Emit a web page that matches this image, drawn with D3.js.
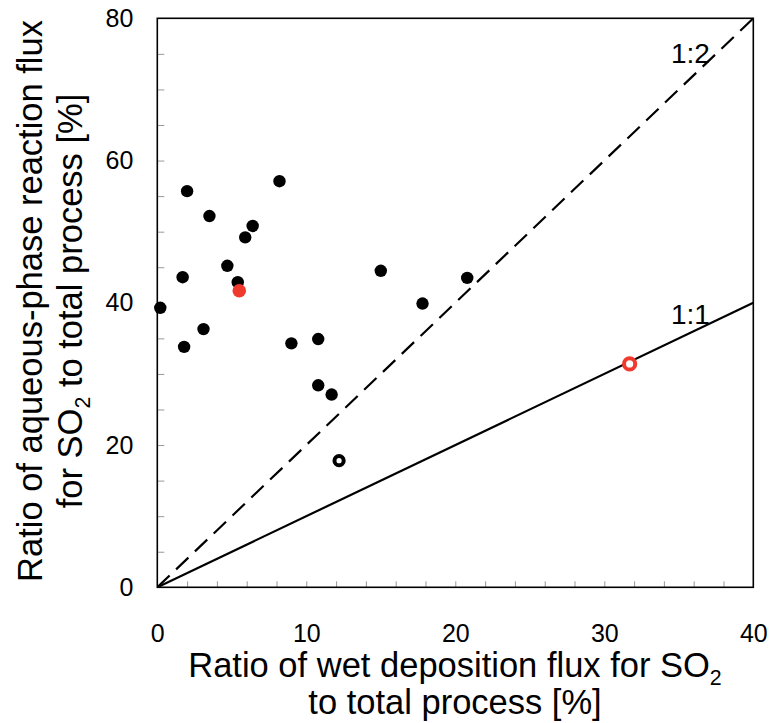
<!DOCTYPE html>
<html><head><meta charset="utf-8">
<script src="https://cdn.jsdelivr.net/npm/d3@7"></script>
<style>body{margin:0;background:#fff}svg{display:block}text{font-family:"Liberation Sans",Arial,sans-serif}</style>
</head><body>
<svg id="c" width="770" height="723"></svg>
<script>
// Filled black points: wet deposition ratio (x) vs aqueous-phase reaction ratio (y)
const blackX = [2.0, 3.5, 8.2, 6.4, 5.9, 4.7, 1.7, 15.0, 5.4, 0.2, 17.8, 20.8, 3.1, 1.8, 9.0, 10.8, 10.8, 11.7];
const blackY = [55.7, 52.2, 57.1, 50.8, 49.2, 45.2, 43.6, 44.5, 42.9, 39.3, 39.9, 43.5, 36.3, 33.8, 34.3, 34.9, 28.4, 27.1];
// Filled red point
const redX = [5.5];
const redY = [41.7];
// Open black point
const openBlackX = [12.2];
const openBlackY = [17.8];
// Open red point
const openRedX = [31.7];
const openRedY = [31.4];
// Reference lines: slope (y/x)
const refLines = [{label: "1:1", slope: 1, dash: null}, {label: "1:2", slope: 2, dash: "17,9"}];
const xTickLabels = [0, 10, 20, 30, 40];
const yTickLabels = [0, 20, 40, 60, 80];

const svg = d3.select("#c");
const L = 157.3, R = 753.3, T = 18.3, B = 587.3;
const x = d3.scaleLinear().domain([0, 40]).range([L, R]);
const y = d3.scaleLinear().domain([0, 80]).range([B, T]);

// minor ticks (inside)
svg.append("g").attr("transform", `translate(${L},0)`)
  .call(d3.axisRight(y).tickValues(d3.range(5, 80, 5)).tickSize(7).tickFormat(""))
  .call(g => g.select(".domain").remove())
  .call(g => g.selectAll("line").attr("stroke", "#999").attr("stroke-width", 1));
svg.append("g").attr("transform", `translate(0,${B})`)
  .call(d3.axisTop(x).tickValues(d3.range(2, 40, 2)).tickSize(6).tickFormat(""))
  .call(g => g.select(".domain").remove())
  .call(g => g.selectAll("line").attr("stroke", "#999").attr("stroke-width", 1));

// tick labels
svg.append("g").attr("transform", `translate(0,${B})`)
  .call(d3.axisBottom(x).tickValues(xTickLabels).tickSize(0).tickPadding(37).tickFormat(d3.format("d")))
  .call(g => g.select(".domain").remove())
  .call(g => g.selectAll("text").attr("font-size", 25).attr("fill", "#000").attr("font-family", "Liberation Sans, Arial, sans-serif"));
svg.append("g").attr("transform", `translate(${L},0)`)
  .call(d3.axisLeft(y).tickValues(yTickLabels).tickSize(0).tickPadding(24).tickFormat(d3.format("d")))
  .call(g => g.select(".domain").remove())
  .call(g => g.selectAll("text").attr("font-size", 25).attr("fill", "#000").attr("font-family", "Liberation Sans, Arial, sans-serif"));

// reference lines
const clipId = "plotclip";
svg.append("clipPath").attr("id", clipId).append("rect").attr("x", L).attr("y", T).attr("width", R - L).attr("height", B - T);
refLines.forEach(r => {
  const xEnd = Math.min(40, 80 / r.slope);
  svg.append("line").attr("clip-path", `url(#${clipId})`)
    .attr("x1", x(0)).attr("y1", y(0)).attr("x2", x(xEnd)).attr("y2", y(xEnd * r.slope))
    .attr("stroke", "#000").attr("stroke-width", 2.2)
    .attr("stroke-dasharray", r.dash);
});
svg.append("text").attr("x", 671).attr("y", 63).attr("font-size", 28).text("1:2");
svg.append("text").attr("x", 671).attr("y", 324).attr("font-size", 28).text("1:1");

// frame
svg.append("rect").attr("x", L).attr("y", T).attr("width", R - L).attr("height", B - T)
  .attr("fill", "none").attr("stroke", "#000").attr("stroke-width", 1.6);

// points
svg.append("g").selectAll("circle").data(d3.zip(blackX, blackY)).join("circle")
  .attr("cx", d => x(d[0])).attr("cy", d => y(d[1])).attr("r", 6.2).attr("fill", "#000");
svg.append("g").selectAll("circle").data(d3.zip(redX, redY)).join("circle")
  .attr("cx", d => x(d[0])).attr("cy", d => y(d[1])).attr("r", 6.8).attr("fill", "#ef3a2d");
svg.append("g").selectAll("circle").data(d3.zip(openBlackX, openBlackY)).join("circle")
  .attr("cx", d => x(d[0])).attr("cy", d => y(d[1])).attr("r", 4.6).attr("fill", "#fff")
  .attr("stroke", "#000").attr("stroke-width", 4);
svg.append("g").selectAll("circle").data(d3.zip(openRedX, openRedY)).join("circle")
  .attr("cx", d => x(d[0])).attr("cy", d => y(d[1])).attr("r", 5.6).attr("fill", "#fff")
  .attr("stroke", "#ef3a2d").attr("stroke-width", 4);

// axis titles
const fs = 34.5;
function titleLine(sel, parts) {
  parts.forEach(p => {
    if (p.sub) sel.append("tspan").attr("font-size", fs * 0.62).attr("dy", 8).text(p.t);
    else sel.append("tspan").attr("dy", p.back ? -8 : null).text(p.t);
  });
}
const xt = svg.append("g").attr("font-size", fs).attr("text-anchor", "middle");
const xt1 = xt.append("text").attr("x", 455).attr("y", 677);
titleLine(xt1, [{t: "Ratio of wet deposition flux for SO"}, {t: "2", sub: true}]);
xt.append("text").attr("x", 455).attr("y", 714).text("to total process [%]");

const yt = svg.append("g").attr("font-size", fs).attr("text-anchor", "middle")
  .attr("transform", "translate(0,301) rotate(-90)");
yt.append("text").attr("x", 0).attr("y", 42).text("Ratio of aqueous-phase reaction flux");
const yt2 = yt.append("text").attr("x", 0).attr("y", 82);
titleLine(yt2, [{t: "for SO"}, {t: "2", sub: true}, {t: " to total process [%]", back: true}]);
</script>
</body></html>
